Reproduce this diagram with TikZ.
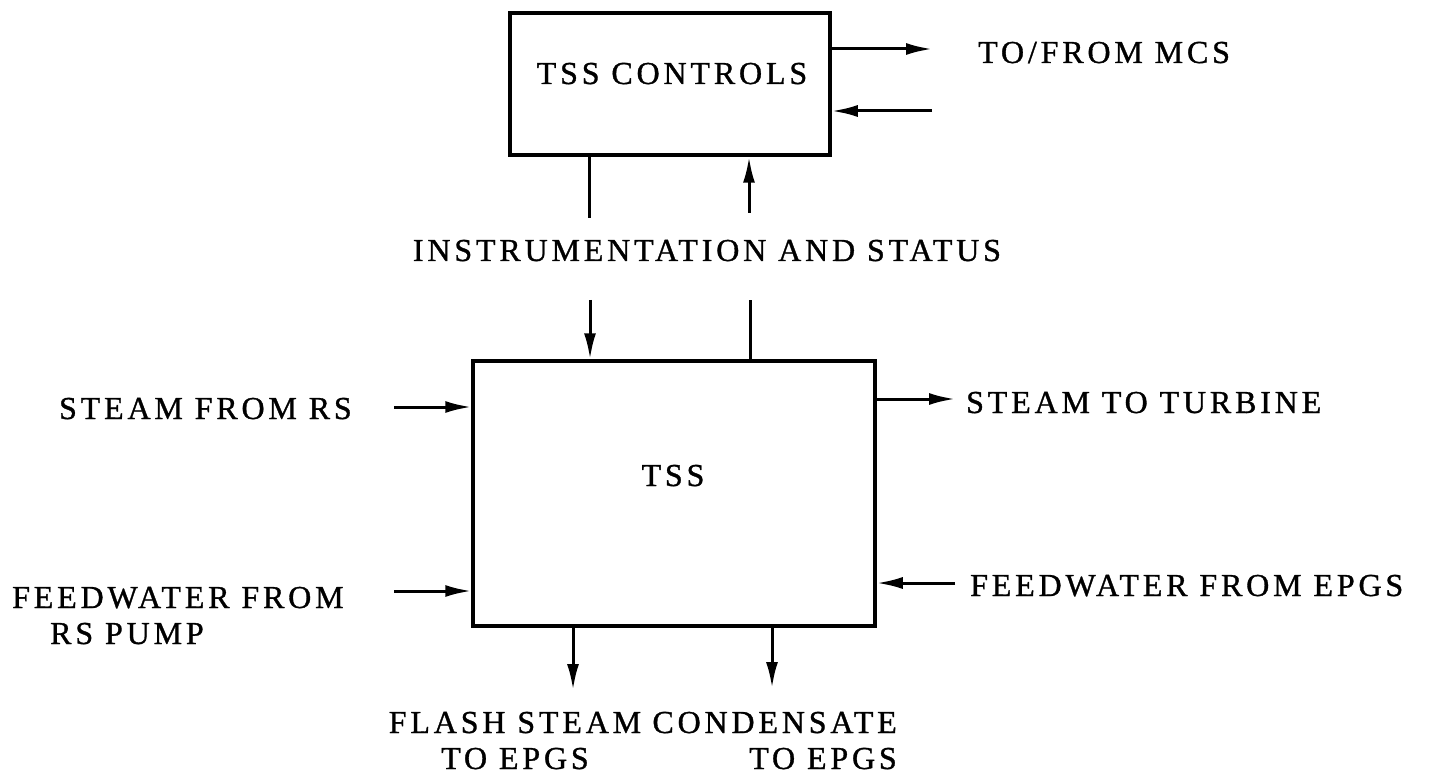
\documentclass[tikz,border=0pt]{standalone}
\usepackage{fontspec}
\newfontfamily\lblfont[LetterSpace=12, FakeBold=1]{Liberation Serif}
\usetikzlibrary{
  calc, % For coordinate calculations
  arrows.meta % For arrow tips
}

\begin{document}
\begin{tikzpicture}[
      x=1pt, y=-1pt, % Pixel-like units, y pointing down
      >={Latex[length=26pt, width=12pt]}, % Default arrow tip
      block/.style={draw, line width=3.5pt, inner sep=0pt}, % Style for the boxes
      flow/.style={line width=3pt}, % Style for the connectors
      lbl/.style={font=\lblfont\fontsize{32}{36}\selectfont, inner sep=0pt}, % Style for the texts
    ]

    \useasboundingbox (0,0) rectangle (1431,775);

    % Blocks
    \node[block, minimum width=320pt, minimum height=142pt] (ctrl) at (670,84) {};
    \node[block, minimum width=402pt, minimum height=265pt] (tss) at (674,493.5) {};
    \node[lbl, anchor=base] (ctrltxt) at (672,84) {TSS CONTROLS};
    \node[lbl, anchor=base] (tsstxt) at (673,486) {TSS};

    % Free ends of the connectors
    \coordinate (mcsout) at (932,49);
    \coordinate (mcsin) at (932,111);
    \coordinate (instA) at (589,218);
    \coordinate (statA) at (749,213);
    \coordinate (instB) at (590,300);
    \coordinate (statB) at (750,300);
    \coordinate (rsin) at (394,407);
    \coordinate (pumpin) at (394,591);
    \coordinate (turbout) at (955,399);
    \coordinate (epgsin) at (955,583);
    \coordinate (flashout) at (573,690);
    \coordinate (condout) at (772,688);

    % Connectors
    \foreach \i/\j in {ctrl.east |- mcsout/mcsout, mcsin/ctrl.east |- mcsin,
        statA/ctrl.south -| statA, instB/tss.north -| instB,
        rsin/tss.west |- rsin, pumpin/tss.west |- pumpin,
        tss.east |- turbout/turbout, epgsin/tss.east |- epgsin,
        tss.south -| flashout/flashout, tss.south -| condout/condout}
    \draw[flow, ->] (\i) -- (\j);

    \draw[flow] (ctrl.south -| instA) -- (instA);
    \draw[flow] (tss.north -| statB) -- (statB);

    % Texts
    \node[lbl, anchor=base west] (mcs) at (978,63) {TO/FROM MCS};
    \node[lbl, anchor=base] (inst) at (707,261) {INSTRUMENTATION AND STATUS};
    \node[lbl, anchor=base east] (rs) at (352,419) {STEAM FROM RS};
    \node[lbl, anchor=base west, align=left] (pump) at (12,644)
    {FEEDWATER FROM\\\hspace*{38pt}RS PUMP};
    \node[lbl, anchor=base west] (turb) at (966,413) {STEAM TO TURBINE};
    \node[lbl, anchor=base west] (epgs) at (970,596) {FEEDWATER FROM EPGS};
    \node[lbl, anchor=base, align=center] (flash) at (515,769) {FLASH STEAM\\TO EPGS};
    \node[lbl, anchor=base east, align=right] (cond) at (897,769) {CONDENSATE\\TO EPGS};

  \end{tikzpicture}
\end{document}
